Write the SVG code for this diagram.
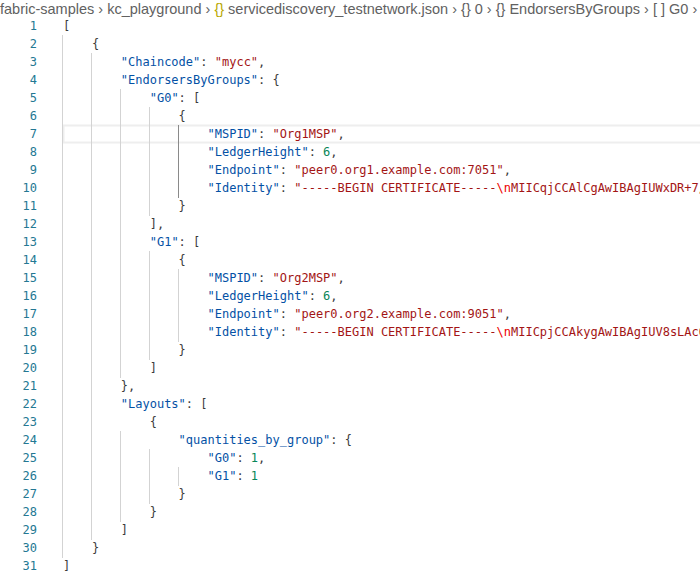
<svg xmlns="http://www.w3.org/2000/svg" width="700" height="577" viewBox="0 0 700 577">
<style>
.c{font-family:"DejaVu Sans Mono",monospace;font-size:12px;fill:#3b3b3b;white-space:pre}
.k{fill:#0451a5}.s{fill:#a31515}.n{fill:#098658}.e{fill:#ee0000}
.ln{font-family:"DejaVu Sans Mono",monospace;font-size:12px;fill:#237893;text-anchor:end}
.g{stroke:#d3d3d3;stroke-width:1}
.bc{font-family:"Liberation Sans",Arial,sans-serif;font-size:14.5px;fill:#616161;white-space:pre}
</style>
<rect width="700" height="577" fill="#fff"/>
<text class="bc" x="0" y="14">fabric-samples <tspan>›</tspan> kc_playground <tspan>›</tspan> <tspan fill="#b8a800">{}</tspan> servicediscovery_testnetwork.json <tspan>›</tspan> {} 0 <tspan>›</tspan> {} EndorsersByGroups <tspan>›</tspan> [ ] G0 <tspan>›</tspan></text>
<rect x="63.5" y="125.5" width="640" height="17" fill="none" stroke="#eeeeee" stroke-width="2"/>
<g id="guides">
<line class="g" x1="62.5" y1="35" x2="62.5" y2="558"/>
<line class="g" x1="91.5" y1="53" x2="91.5" y2="540"/>
<line class="g" x1="120.5" y1="89" x2="120.5" y2="378"/>
<line class="g" x1="120.5" y1="431" x2="120.5" y2="522"/>
<line class="g" x1="149.5" y1="107" x2="149.5" y2="216"/>
<line class="g" x1="149.5" y1="251" x2="149.5" y2="360"/>
<line class="g" x1="149.5" y1="449" x2="149.5" y2="504"/>
<line x1="178.5" y1="125" x2="178.5" y2="198" stroke="#8a8a8a"/>
<line class="g" x1="178.5" y1="269" x2="178.5" y2="342"/>
<line class="g" x1="178.5" y1="467" x2="178.5" y2="486"/>
</g>
<g id="linenumbers">
<text class="ln" x="37" y="30">1</text><text class="ln" x="37" y="48">2</text><text class="ln" x="37" y="66">3</text><text class="ln" x="37" y="84">4</text><text class="ln" x="37" y="102">5</text><text class="ln" x="37" y="120">6</text><text class="ln" x="37" y="138" fill="#0b216f">7</text><text class="ln" x="37" y="156">8</text><text class="ln" x="37" y="174">9</text><text class="ln" x="37" y="192">10</text><text class="ln" x="37" y="210">11</text><text class="ln" x="37" y="228">12</text><text class="ln" x="37" y="246">13</text><text class="ln" x="37" y="264">14</text><text class="ln" x="37" y="282">15</text><text class="ln" x="37" y="300">16</text><text class="ln" x="37" y="318">17</text><text class="ln" x="37" y="336">18</text><text class="ln" x="37" y="354">19</text><text class="ln" x="37" y="372">20</text><text class="ln" x="37" y="390">21</text><text class="ln" x="37" y="408">22</text><text class="ln" x="37" y="426">23</text><text class="ln" x="37" y="444">24</text><text class="ln" x="37" y="462">25</text><text class="ln" x="37" y="480">26</text><text class="ln" x="37" y="498">27</text><text class="ln" x="37" y="516">28</text><text class="ln" x="37" y="534">29</text><text class="ln" x="37" y="552">30</text><text class="ln" x="37" y="570">31</text>
</g>
<g id="code">
<text class="c" x="63" y="30">[</text>
<text class="c" x="63" y="48">    {</text>
<text class="c" x="63" y="66">        <tspan class="k">"Chaincode"</tspan>: <tspan class="s">"mycc"</tspan>,</text>
<text class="c" x="63" y="84">        <tspan class="k">"EndorsersByGroups"</tspan>: {</text>
<text class="c" x="63" y="102">            <tspan class="k">"G0"</tspan>: [</text>
<text class="c" x="63" y="120">                {</text>
<text class="c" x="63" y="138">                    <tspan class="k">"MSPID"</tspan>: <tspan class="s">"Org1MSP"</tspan>,</text>
<text class="c" x="63" y="156">                    <tspan class="k">"LedgerHeight"</tspan>: <tspan class="n">6</tspan>,</text>
<text class="c" x="63" y="174">                    <tspan class="k">"Endpoint"</tspan>: <tspan class="s">"peer0.org1.example.com:7051"</tspan>,</text>
<text class="c" x="63" y="192">                    <tspan class="k">"Identity"</tspan>: <tspan class="s">"-----BEGIN CERTIFICATE-----<tspan class="e">\n</tspan>MIICqjCCAlCgAwIBAgIUWxDR+7/</tspan></text>
<text class="c" x="63" y="210">                }</text>
<text class="c" x="63" y="228">            ],</text>
<text class="c" x="63" y="246">            <tspan class="k">"G1"</tspan>: [</text>
<text class="c" x="63" y="264">                {</text>
<text class="c" x="63" y="282">                    <tspan class="k">"MSPID"</tspan>: <tspan class="s">"Org2MSP"</tspan>,</text>
<text class="c" x="63" y="300">                    <tspan class="k">"LedgerHeight"</tspan>: <tspan class="n">6</tspan>,</text>
<text class="c" x="63" y="318">                    <tspan class="k">"Endpoint"</tspan>: <tspan class="s">"peer0.org2.example.com:9051"</tspan>,</text>
<text class="c" x="63" y="336">                    <tspan class="k">"Identity"</tspan>: <tspan class="s">"-----BEGIN CERTIFICATE-----<tspan class="e">\n</tspan>MIICpjCCAkygAwIBAgIUV8sLAcQ</tspan></text>
<text class="c" x="63" y="354">                }</text>
<text class="c" x="63" y="372">            ]</text>
<text class="c" x="63" y="390">        },</text>
<text class="c" x="63" y="408">        <tspan class="k">"Layouts"</tspan>: [</text>
<text class="c" x="63" y="426">            {</text>
<text class="c" x="63" y="444">                <tspan class="k">"quantities_by_group"</tspan>: {</text>
<text class="c" x="63" y="462">                    <tspan class="k">"G0"</tspan>: <tspan class="n">1</tspan>,</text>
<text class="c" x="63" y="480">                    <tspan class="k">"G1"</tspan>: <tspan class="n">1</tspan></text>
<text class="c" x="63" y="498">                }</text>
<text class="c" x="63" y="516">            }</text>
<text class="c" x="63" y="534">        ]</text>
<text class="c" x="63" y="552">    }</text>
<text class="c" x="63" y="570">]</text>
</g>
</svg>
